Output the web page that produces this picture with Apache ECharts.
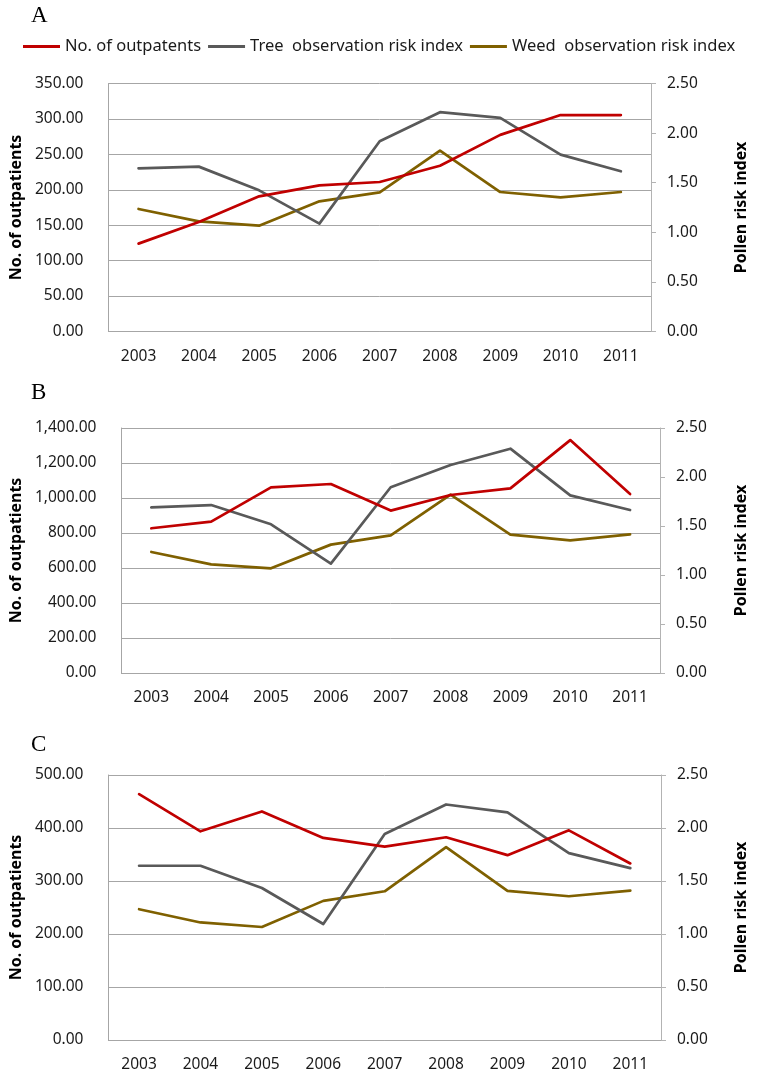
<!DOCTYPE html>
<html>
<head>
<meta charset="utf-8">
<script src="https://cdn.jsdelivr.net/npm/echarts@6/dist/echarts.min.js"></script>
<style>
html,body{margin:0;padding:0;background:#fff;}
#chart{width:757px;height:1073px;}
</style>
</head>
<body>
<div id="chart"></div>
<script>
// ---- Data ----
const years = ['2003','2004','2005','2006','2007','2008','2009','2010','2011'];
const seriesNames = ['No. of outpatents', 'Tree  observation risk index', 'Weed  observation risk index'];
const panelLetters = ['A', 'B', 'C'];

const outpatientsA = [124, 154.5, 190.8, 206.3, 211, 234, 277.5, 305.5, 305.5];
const treeA = [1.645, 1.662, 1.423, 1.087, 1.918, 2.211, 2.153, 1.783, 1.615];
const weedA = [1.235, 1.110, 1.067, 1.312, 1.403, 1.824, 1.406, 1.353, 1.406];

const outpatientsB = [827, 865, 1061, 1080, 928, 1017, 1055, 1331, 1023];
const treeB = [1.690, 1.714, 1.517, 1.116, 1.895, 2.122, 2.289, 1.813, 1.663];
const weedB = [1.235, 1.109, 1.068, 1.310, 1.405, 1.820, 1.412, 1.354, 1.415];

const outpatientsC = [463.8, 393.8, 431.3, 381.3, 365, 382.5, 348.8, 395.6, 333.1];
const treeC = [1.644, 1.644, 1.434, 1.094, 1.944, 2.222, 2.147, 1.763, 1.622];
const weedC = [1.234, 1.109, 1.066, 1.3125, 1.403, 1.819, 1.406, 1.356, 1.409];

const leftMax = [350, 1400, 500];
const leftInterval = [50, 200, 100];
const rightMax = [2.5, 2.5, 2.5];
const rightInterval = [0.5, 0.5, 0.5];

const leftAxisTitle = 'No. of outpatients';
const rightAxisTitle = 'Pollen risk index';

// ---- Styling / layout ----
const colors = ['#C00000', '#595959', '#7F6000'];
const gridCfg = [
  {left: 108, right: 96, top: 83.5, height: 248},
  {left: 108, right: 94, top: 428, height: 245},
  {left: 108, right: 96, top: 775, height: 267}
];
const leftNameGap = [83, 93, 83];
const rightNameGap = [82, 73, 72];
const letterY = [15.5, 392.5, 744.5];

const tickFont = {fontFamily: 'Noto Sans', fontSize: 15.5, color: '#1a1a1a'};
const titleFont = {fontFamily: 'Noto Sans', fontSize: 16, fontWeight: 'bold', color: '#000'};
const gridColor = '#a6a6a6';

const panels = [
  [outpatientsA, treeA, weedA],
  [outpatientsB, treeB, weedB],
  [outpatientsC, treeC, weedC]
];

function fmt(v) {
  return Number(v).toLocaleString('en-US', {minimumFractionDigits: 2, maximumFractionDigits: 2});
}

const grid = [], xAxis = [], yAxis = [], series = [], graphic = [];
panels.forEach((p, i) => {
  grid.push(Object.assign({containLabel: false}, gridCfg[i]));
  xAxis.push({
    type: 'category', gridIndex: i, data: years, boundaryGap: true,
    axisLine: {show: true, lineStyle: {color: gridColor, width: 1}},
    axisTick: {show: false},
    axisLabel: Object.assign({margin: 17}, tickFont),
    splitLine: {show: false}
  });
  yAxis.push({
    type: 'value', gridIndex: i, position: 'left', min: 0, max: leftMax[i], interval: leftInterval[i],
    name: leftAxisTitle, nameLocation: 'middle', nameGap: leftNameGap[i], nameRotate: 90,
    nameTextStyle: titleFont,
    axisLine: {show: true, lineStyle: {color: gridColor, width: 1}},
    axisTick: {show: false},
    axisLabel: Object.assign({margin: 25, formatter: fmt}, tickFont),
    splitLine: {show: true, lineStyle: {color: gridColor, width: 1}}
  });
  yAxis.push({
    type: 'value', gridIndex: i, position: 'right', min: 0, max: rightMax[i], interval: rightInterval[i],
    name: rightAxisTitle, nameLocation: 'middle', nameGap: rightNameGap[i], nameRotate: 90,
    nameTextStyle: titleFont,
    axisLine: {show: true, lineStyle: {color: '#b3b3b3', width: 1}},
    axisTick: {show: true, inside: false, length: 5, lineStyle: {color: '#b3b3b3'}},
    axisLabel: Object.assign({margin: 16, formatter: fmt}, tickFont),
    splitLine: {show: false}
  });
  p.forEach((d, k) => {
    series.push({
      name: seriesNames[k], type: 'line', xAxisIndex: i, yAxisIndex: k === 0 ? i * 2 : i * 2 + 1,
      data: d, symbol: 'none', smooth: false, animation: false,
      lineStyle: {color: colors[k], width: 2.7, cap: 'round', join: 'round'},
      itemStyle: {color: colors[k]},
      z: 3 - k
    });
  });
  graphic.push({
    type: 'text', x: 31, y: letterY[i],
    style: {text: panelLetters[i], font: '23px "Liberation Serif"', fill: '#000', verticalAlign: 'middle', textVerticalAlign: 'middle'}
  });
});

const chart = echarts.init(document.getElementById('chart'), null, {renderer: 'canvas'});
chart.setOption({
  animation: false,
  backgroundColor: '#fff',
  color: colors,
  legend: {
    data: seriesNames, left: 23, top: 38, padding: 0, itemGap: 7,
    itemWidth: 37, itemHeight: 3, icon: 'rect',
    textStyle: {fontFamily: 'Noto Sans', fontSize: 16.5, color: '#1a1a1a'}
  },
  grid: grid, xAxis: xAxis, yAxis: yAxis, series: series, graphic: graphic
});
</script>
</body>
</html>
